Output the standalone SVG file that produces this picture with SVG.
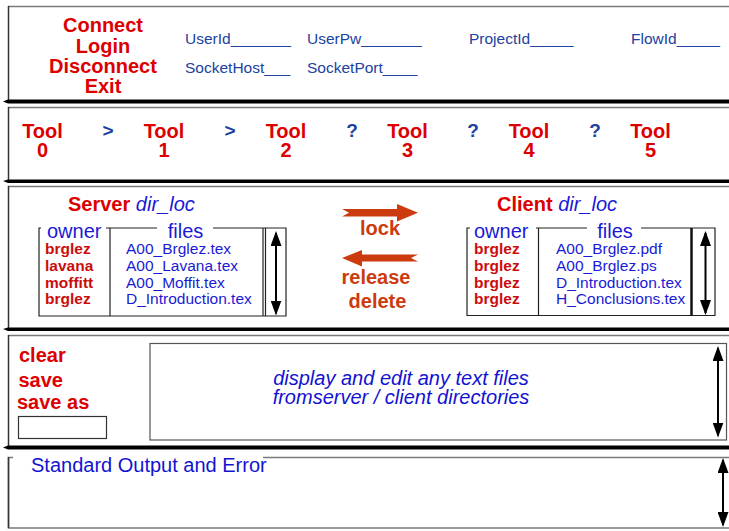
<svg xmlns="http://www.w3.org/2000/svg" width="729" height="531" viewBox="0 0 729 531">
<defs>
<style>
text{font-family:"Liberation Sans",Arial,Helvetica,sans-serif}
.red{fill:#dd0000;font-weight:bold;font-size:20px}
.own{fill:#cc0c0c;font-weight:bold;font-size:15.5px}
.nav{fill:#2042a2;font-size:15.5px}
.sep{fill:#1d3f9f;font-weight:bold;font-size:19px;text-anchor:middle}
.blu{fill:#1a1ad6;font-size:20px}
.fil{fill:#1a1ad6;font-size:15.5px}
.it{fill:#1212d2;font-size:20px;font-style:italic;font-weight:normal}
.org{fill:#cc3b0e;font-weight:bold;font-size:20px;text-anchor:middle}
.mid{text-anchor:middle}
.top{stroke:#7a7a7a;stroke-width:1.5;fill:none}
.lft{stroke:#333;stroke-width:1.5;fill:none}
.tb{stroke:#222;stroke-width:1.2;fill:none}
.scr{stroke:#000;stroke-width:2;fill:none;marker-start:url(#ah);marker-end:url(#ah)}
.band{fill:#000}
</style>
<marker id="ah" viewBox="0 0 15 11" refX="13" refY="5.5" markerWidth="15" markerHeight="11" markerUnits="userSpaceOnUse" orient="auto-start-reverse">
<path d="M0,0 L15,5.5 L0,11 Z" fill="#000"/>
</marker>
</defs>
<rect width="729" height="531" fill="#fff"/>

<g id="panel-connect">
<line class="top" x1="8" y1="6.5" x2="729" y2="6.5"/>
<line class="lft" x1="8.5" y1="6" x2="8.5" y2="100"/>
<path class="band" d="M3,101.5 L8,99.5 L729,99.5 L729,103.5 L8,103.5 Z"/>
<text class="red mid" x="103" y="32">Connect</text>
<text class="red mid" x="103" y="53">Login</text>
<text class="red mid" x="103" y="73">Disconnect</text>
<text class="red mid" x="103" y="93">Exit</text>
<text class="nav" x="185" y="44">UserId_______</text>
<text class="nav" x="307" y="44">UserPw_______</text>
<text class="nav" x="469" y="44">ProjectId_____</text>
<text class="nav" x="631" y="44">FlowId_____</text>
<text class="nav" x="185" y="73">SocketHost___</text>
<text class="nav" x="307" y="73">SocketPort____</text>
</g>

<g id="panel-tools">
<line class="top" x1="8" y1="107.5" x2="729" y2="107.5"/>
<line class="lft" x1="8.5" y1="107" x2="8.5" y2="180"/>
<path class="band" d="M3,181 L8,179.5 L729,179.5 L729,183 L8,183 Z"/>
<g id="tool0"><text class="red mid" x="42.5" y="138">Tool</text><text class="red mid" x="42.5" y="157">0</text></g>
<g id="tool1"><text class="red mid" x="164" y="138">Tool</text><text class="red mid" x="164" y="157">1</text></g>
<g id="tool2"><text class="red mid" x="286" y="138">Tool</text><text class="red mid" x="286" y="157">2</text></g>
<g id="tool3"><text class="red mid" x="407.5" y="138">Tool</text><text class="red mid" x="407.5" y="157">3</text></g>
<g id="tool4"><text class="red mid" x="529" y="138">Tool</text><text class="red mid" x="529" y="157">4</text></g>
<g id="tool5"><text class="red mid" x="650.5" y="138">Tool</text><text class="red mid" x="650.5" y="157">5</text></g>
<text class="sep" x="108" y="137">&gt;</text>
<text class="sep" x="230" y="137">&gt;</text>
<text class="sep" x="352" y="137">?</text>
<text class="sep" x="473" y="137">?</text>
<text class="sep" x="595" y="137">?</text>
</g>

<g id="panel-dirs">
<line class="top" x1="8" y1="186.5" x2="729" y2="186.5"/>
<line class="lft" x1="8.5" y1="186" x2="8.5" y2="328"/>
<path class="band" d="M3,329 L8,327.5 L729,327.5 L729,331 L8,331 Z"/>
</g>

<g id="server">
<text class="red" x="68" y="211">Server <tspan class="it" style="fill:#1a1ad6">dir_loc</tspan></text>
<path class="tb" d="M41,228 H39 V316 H286 V228 H213 M157,228 H106 M110,228 V316 M263,228 V316 M265.5,228 V316"/>
<text class="blu" x="47" y="237.5">owner</text>
<text class="blu mid" x="185.5" y="237.5">files</text>
<text class="own" x="45" y="254">brglez</text>
<text class="own" x="45" y="271">lavana</text>
<text class="own" x="45" y="287.5">moffitt</text>
<text class="own" x="45" y="304">brglez</text>
<text class="fil" x="126" y="254">A00_Brglez.tex</text>
<text class="fil" x="126" y="271">A00_Lavana.tex</text>
<text class="fil" x="126" y="287.5">A00_Moffit.tex</text>
<text class="fil" x="126" y="304">D_Introduction.tex</text>
<line class="scr" x1="276" y1="233" x2="276" y2="313.5"/>
</g>

<g id="client">
<text class="red" x="497" y="211">Client <tspan class="it" style="fill:#1a1ad6">dir_loc</tspan></text>
<path class="tb" d="M470,228 H467 V315.5 H715 V228 H641 M587,228 H536 M538.5,228 V315.5"/>
<line x1="691.5" y1="228" x2="691.5" y2="315.5" stroke="#111" stroke-width="2.5"/>
<text class="blu" x="474" y="237.5">owner</text>
<text class="blu mid" x="615" y="237.5">files</text>
<text class="own" x="474" y="254">brglez</text>
<text class="own" x="474" y="271">brglez</text>
<text class="own" x="474" y="287.5">brglez</text>
<text class="own" x="474" y="304">brglez</text>
<text class="fil" x="556" y="254">A00_Brglez.pdf</text>
<text class="fil" x="556" y="271">A00_Brglez.ps</text>
<text class="fil" x="556" y="287.5">D_Introduction.tex</text>
<text class="fil" x="556" y="304">H_Conclusions.tex</text>
<line class="scr" x1="705.5" y1="233" x2="705.5" y2="313"/>
</g>

<g id="connectors">
<path d="M342,209 L397,209 L397,204 L418,212.7 L397,221.5 L397,216.5 L342,216.5 L349,212.7 Z" fill="#cc3b0e"/>
<path d="M418,254.5 L362,254.5 L362,250 L342,258 L362,266.5 L362,261.5 L418,261.5 L411,258 Z" fill="#cc3b0e"/>
<text class="org" x="380" y="235">lock</text>
<text class="org" x="376" y="284">release</text>
<text class="org" x="377.5" y="308">delete</text>
</g>

<g id="panel-editor">
<line class="top" x1="8" y1="335.5" x2="729" y2="335.5"/>
<line class="lft" x1="8.5" y1="335" x2="8.5" y2="446"/>
<path class="band" d="M3,447.5 L8,445.5 L729,445.5 L729,449.5 L8,449.5 Z"/>
<text class="red" x="19" y="362">clear</text>
<text class="red" x="18.5" y="387">save</text>
<text class="red" x="17" y="409">save as</text>
<rect x="18.5" y="416.5" width="88" height="22" fill="#fff" stroke="#333" stroke-width="1.2"/>
<rect x="150" y="343.5" width="576.5" height="96.5" fill="#fff" stroke="#555" stroke-width="1.2"/>
<text class="it mid" x="401" y="385">display and edit any text files</text>
<text class="it mid" x="401" y="404">fromserver / client directories</text>
<line class="scr" x1="718" y1="348" x2="718" y2="435.5"/>
</g>

<g id="panel-output">
<path class="top" d="M13,457.5 H8.5 V528 H729 M263,457.5 H729"/>
<line class="lft" x1="8.5" y1="457" x2="8.5" y2="528"/>
<text class="blu" x="31" y="471.5" style="fill:#1313d0">Standard Output and Error</text>
<line class="scr" x1="723" y1="460" x2="723" y2="525"/>
</g>
</svg>
